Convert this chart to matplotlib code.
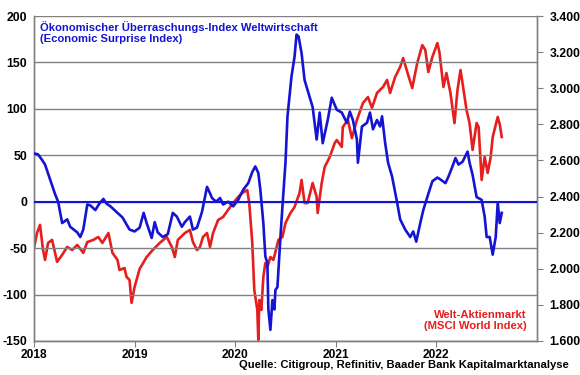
import matplotlib
matplotlib.use('Agg')
import matplotlib.pyplot as plt

plt.rcParams['font.family'] = ['Liberation Sans', 'DejaVu Sans']
plt.rcParams['font.weight'] = 'bold'

# Economic Surprise Index (left axis)
esi_t = [2018.00, 2018.04, 2018.08, 2018.11, 2018.16, 2018.21, 2018.24, 2018.28, 2018.33, 2018.36,
         2018.43, 2018.46, 2018.49, 2018.53, 2018.56, 2018.61, 2018.65, 2018.69, 2018.72, 2018.76,
         2018.83, 2018.88, 2018.95, 2019.00, 2019.05, 2019.09, 2019.12, 2019.17, 2019.20, 2019.23,
         2019.28, 2019.33, 2019.38, 2019.42, 2019.47, 2019.50, 2019.55, 2019.58, 2019.62, 2019.67,
         2019.72, 2019.75, 2019.77, 2019.81, 2019.85, 2019.88, 2019.93, 2019.98, 2020.03, 2020.08,
         2020.13, 2020.17, 2020.20, 2020.23, 2020.25, 2020.28, 2020.30, 2020.32, 2020.33, 2020.35,
         2020.37, 2020.39, 2020.40, 2020.42, 2020.45, 2020.47, 2020.50, 2020.52, 2020.56, 2020.59,
         2020.61, 2020.63, 2020.66, 2020.69, 2020.74, 2020.77, 2020.81, 2020.84, 2020.87, 2020.92,
         2020.96, 2021.01, 2021.06, 2021.11, 2021.14, 2021.17, 2021.21, 2021.22, 2021.26, 2021.31,
         2021.34, 2021.37, 2021.41, 2021.44, 2021.46, 2021.49, 2021.52, 2021.56, 2021.61, 2021.64,
         2021.69, 2021.74, 2021.77, 2021.80, 2021.84, 2021.87, 2021.91, 2021.96, 2022.01, 2022.04,
         2022.09, 2022.12, 2022.16, 2022.19, 2022.22, 2022.26, 2022.31, 2022.33, 2022.36, 2022.40,
         2022.45, 2022.48, 2022.50, 2022.53, 2022.56, 2022.59, 2022.61, 2022.63, 2022.65]
esi_v = [52, 51, 45, 40, 24, 8, 0, -23, -19, -27,
         -33, -38, -30, -3, -4, -9, -2, 3, -2, -5,
         -12, -17, -30, -32, -28, -12, -23, -39, -22, -33,
         -38, -35, -12, -16, -27, -22, -16, -30, -28, -11,
         16, 9, 4, 0, 4, -3, 0, -5, 2, 13,
         20, 32, 38, 31, 13, -23, -59, -66, -116, -138,
         -106, -116, -95, -92, -38, -5, 42, 92, 135, 156,
         180, 178, 160, 131, 113, 102, 67, 96, 63, 88,
         112, 99, 96, 85, 97, 88, 67, 42, 81, 85,
         96, 78, 88, 81, 92, 64, 42, 27, -1, -19,
         -30, -38, -32, -43, -23, -9, 5, 22, 26, 24,
         20, 27, 38, 47, 40, 43, 54, 42, 29, 5,
         2, -16, -38, -38, -57, -38, -1, -23, -12]

# MSCI World Index (right axis)
msci_t = [2018.00, 2018.03, 2018.06, 2018.09, 2018.11, 2018.14, 2018.18, 2018.23, 2018.28, 2018.33,
          2018.38, 2018.43, 2018.49, 2018.53, 2018.59, 2018.64, 2018.68, 2018.74, 2018.78, 2018.83,
          2018.85, 2018.90, 2018.92, 2018.95, 2018.97, 2019.00, 2019.05, 2019.12, 2019.18, 2019.25,
          2019.32, 2019.37, 2019.40, 2019.43, 2019.50, 2019.55, 2019.58, 2019.62, 2019.65, 2019.68,
          2019.72, 2019.75, 2019.78, 2019.83, 2019.88, 2019.95, 2020.02, 2020.07, 2020.12, 2020.14,
          2020.17, 2020.19, 2020.22, 2020.23, 2020.24, 2020.26, 2020.28, 2020.30, 2020.32, 2020.35,
          2020.38, 2020.43, 2020.47, 2020.50, 2020.55, 2020.59, 2020.64, 2020.66, 2020.69, 2020.72,
          2020.77, 2020.81, 2020.82, 2020.86, 2020.89, 2020.94, 2020.99, 2021.01, 2021.06, 2021.07,
          2021.12, 2021.16, 2021.21, 2021.27, 2021.32, 2021.36, 2021.41, 2021.47, 2021.51, 2021.54,
          2021.59, 2021.64, 2021.67, 2021.72, 2021.76, 2021.81, 2021.86, 2021.89, 2021.92, 2021.96,
          2022.01, 2022.03, 2022.07, 2022.10, 2022.14, 2022.18, 2022.21, 2022.24, 2022.26, 2022.30,
          2022.33, 2022.36, 2022.40, 2022.42, 2022.45, 2022.48, 2022.51, 2022.54, 2022.56, 2022.61,
          2022.63, 2022.65]
msci_v = [2115, 2198, 2243, 2104, 2049, 2143, 2160, 2038, 2077, 2121,
          2104, 2132, 2088, 2148, 2160, 2176, 2143, 2198, 2088, 2049,
          1993, 2004, 1955, 1938, 1811, 1899, 1999, 2065, 2104, 2143,
          2176, 2121, 2065, 2160, 2198, 2215, 2148, 2104, 2121, 2176,
          2198, 2121, 2198, 2270, 2287, 2342, 2392, 2420, 2436, 2364,
          2143, 1883, 1772, 1606, 1827, 1772, 1955, 2032, 2010, 2065,
          2049, 2160, 2176, 2254, 2309, 2342, 2420, 2492, 2364, 2364,
          2475, 2398, 2309, 2475, 2564, 2619, 2697, 2713, 2675, 2785,
          2824, 2724, 2824, 2918, 2951, 2891, 2974, 3007, 3046, 2974,
          3062, 3118, 3167, 3073, 3001, 3140, 3239, 3212, 3090, 3173,
          3250, 3201, 3007, 3084, 2974, 2807, 2990, 3101, 3029, 2879,
          2807, 2658, 2807, 2785, 2492, 2619, 2531, 2619, 2730, 2841,
          2800, 2730]

left_ticks = [-150, -100, -50, 0, 50, 100, 150, 200]
right_ticks = [1600, 1800, 2000, 2200, 2400, 2600, 2800, 3000, 3200, 3400]
years = [2018, 2019, 2020, 2021, 2022]

blue = '#1414d2'
red = '#e61e1e'
grey = '#808080'

fig = plt.figure(figsize=(5.8, 3.75), dpi=100)
ax = fig.add_axes([0.0586, 0.0907, 0.8672, 0.8666])
ax2 = ax.twinx()
ax.set_zorder(2)
ax.patch.set_visible(False)

ax.plot(esi_t, esi_v, color=blue, lw=1.9, zorder=3)
ax.axhline(0, color=blue, lw=1.5, zorder=4)
ax2.plot(msci_t, msci_v, color=red, lw=1.9)

ax.set_xlim(2018, 2023)
ax.set_ylim(-150, 200)
ax2.set_ylim(1600, 3400)
ax.set_yticks(left_ticks)
ax.set_yticklabels([str(v) for v in left_ticks])
ax2.set_yticks(right_ticks)
ax2.set_yticklabels(['{:.3f}'.format(v / 1000) for v in right_ticks])
ax.set_xticks(years)
ax.set_xticklabels([str(y) for y in years])

for v in left_ticks:
    ax.axhline(v, color=grey, lw=1, zorder=1)

for a in (ax, ax2):
    for s in a.spines.values():
        s.set_color(grey)
        s.set_linewidth(1)
    a.spines['top'].set_visible(False)
ax.tick_params(axis='y', length=0, labelsize=8.8, pad=5)
ax.tick_params(axis='x', length=4, color=grey, labelsize=8.6, pad=2)
ax2.tick_params(axis='y', length=4, color=grey, labelsize=8.8, pad=5)

ax.text(0.012, 0.985, 'Ökonomischer Überraschungs-Index Weltwirtschaft\n(Economic Surprise Index)',
        transform=ax.transAxes, color=blue, fontsize=8.1, fontweight='bold', va='top', ha='left',
        linespacing=1.1)
ax.text(0.98, 0.03, 'Welt-Aktienmarkt\n(MSCI World Index)', transform=ax.transAxes,
        color=red, fontsize=8.1, fontweight='bold', va='bottom', ha='right', linespacing=1.1)
fig.text(0.98, 0.012, 'Quelle: Citigroup, Refinitiv, Baader Bank Kapitalmarktanalyse',
         fontsize=8.1, fontweight='bold', ha='right', va='bottom')

fig.savefig('out.png', dpi=100)
